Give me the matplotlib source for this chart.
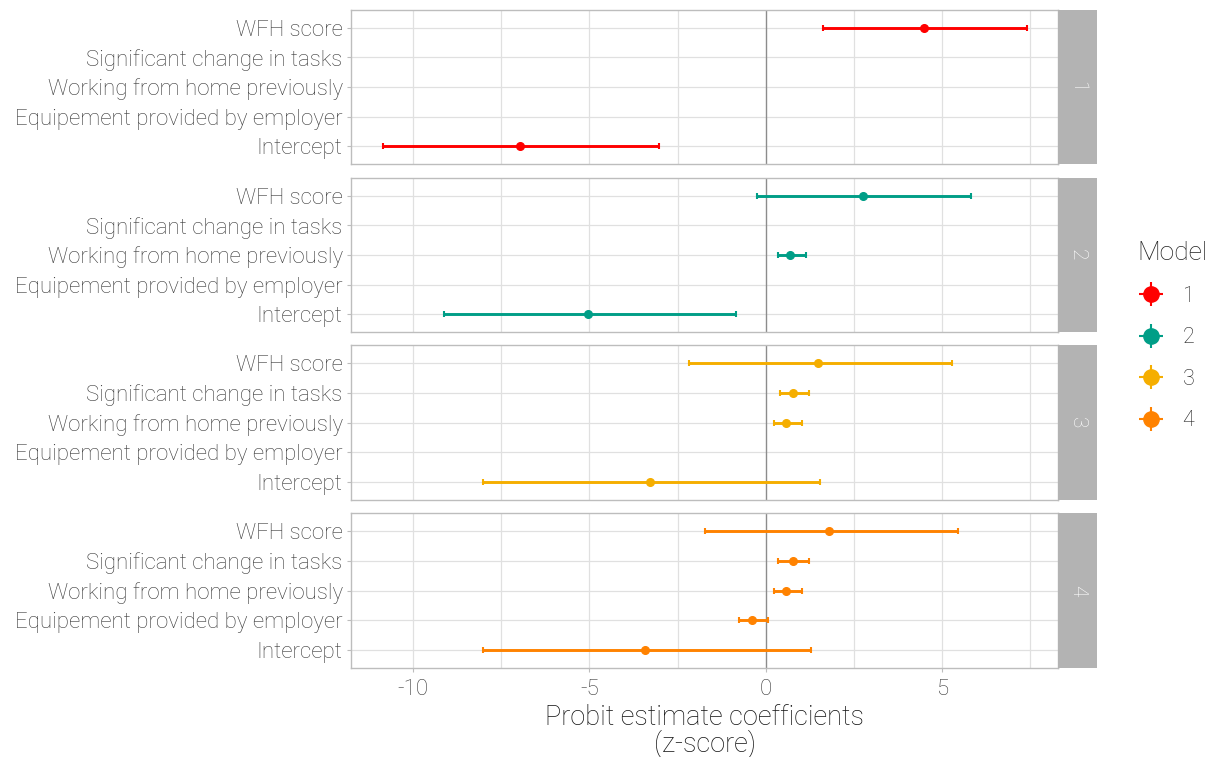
import matplotlib.pyplot as plt
from matplotlib.lines import Line2D
from matplotlib.legend_handler import HandlerTuple

plt.rcParams['font.family'] = ['Roboto', 'DejaVu Sans']
plt.rcParams['font.weight'] = 'light'

terms = ['WFH score', 'Significant change in tasks', 'Working from home previously',
         'Equipement provided by employer', 'Intercept']
models = ['1', '2', '3', '4']
colors = ['#FF0000', '#009E87', '#F5AE00', '#FF8200']

# per model: term -> (estimate, low, high)
est1 = {'WFH score': (4.48, 1.62, 7.41), 'Intercept': (-6.97, -10.85, -3.03)}
est2 = {'WFH score': (2.77, -0.26, 5.83),
        'Working from home previously': (0.69, 0.36, 1.13),
        'Intercept': (-5.05, -9.12, -0.85)}
est3 = {'WFH score': (1.49, -2.18, 5.29),
        'Significant change in tasks': (0.78, 0.41, 1.23),
        'Working from home previously': (0.59, 0.24, 1.03),
        'Intercept': (-3.27, -8.01, 1.53)}
est4 = {'WFH score': (1.80, -1.72, 5.44),
        'Significant change in tasks': (0.78, 0.35, 1.23),
        'Working from home previously': (0.59, 0.24, 1.03),
        'Equipement provided by employer': (-0.38, -0.76, 0.06),
        'Intercept': (-3.42, -8.01, 1.28)}
estimates = [est1, est2, est3, est4]

W, H = 1213, 757
fig = plt.figure(figsize=(W / 100, H / 100), dpi=100)

left, right = 351, 1058
tops = [10, 178, 345, 513]
bottoms = [164, 332, 500, 668]
txt_grey = '#3A3A3A'
border = '#BDBDBD'
grid_c = '#E0E0E0'

ypos = {t: len(terms) - 1 - i for i, t in enumerate(terms)}

for k in range(4):
    ax = fig.add_axes([left / W, 1 - bottoms[k] / H, (right - left) / W, (bottoms[k] - tops[k]) / H])
    ax.set_xlim(-11.76, 8.29)
    ax.set_ylim(-0.6, len(terms) - 0.4)
    for xv in [-10, -7.5, -5, -2.5, 2.5, 5, 7.5]:
        ax.axvline(xv, color=grid_c, lw=0.9, zorder=0)
    for yv in range(len(terms)):
        ax.axhline(yv, color=grid_c, lw=0.9, zorder=0)
    ax.axvline(0, color='#8C8C8C', lw=1.0, zorder=1)

    for term, (m, lo, hi) in estimates[k].items():
        y = ypos[term]
        ax.errorbar(m, y, xerr=[[m - lo], [hi - m]], fmt='o', color=colors[k],
                    ms=5.5, lw=2.1, capsize=2.2, capthick=1.5, zorder=3)

    ax.set_yticks([ypos[t] for t in terms])
    ax.set_yticklabels(terms, fontsize=16, color=txt_grey)
    ax.set_xticks([-10, -5, 0, 5])
    ax.tick_params(axis='both', color=border, length=3, width=0.8, pad=3)
    if k < 3:
        ax.tick_params(axis='x', labelbottom=False, length=0)
    else:
        ax.set_xticklabels(['-10', '-5', '0', '5'], fontsize=16, color=txt_grey)
        ax.tick_params(axis='x', pad=5)
    for s in ax.spines.values():
        s.set_color(border)
        s.set_linewidth(1.0)

    # strip on the right
    sax = fig.add_axes([right / W, 1 - bottoms[k] / H, 39 / W, (bottoms[k] - tops[k]) / H])
    sax.set_facecolor('#B3B3B3')
    sax.set_xticks([])
    sax.set_yticks([])
    for s in sax.spines.values():
        s.set_visible(False)
    sax.text(0.5, 0.5, models[k], transform=sax.transAxes, rotation=-90,
             ha='center', va='center', color='white', fontsize=15)

fig.text((left + right) / 2 / W, 1 - 731 / H, 'Probit estimate coefficients\n(z-score)',
         ha='center', va='center', fontsize=19.5, color='#111111', linespacing=0.95)

handles = []
for c in colors:
    h1 = Line2D([], [], marker='+', color=c, ms=17, mew=1.5, linestyle='none')
    h2 = Line2D([], [], marker='o', color=c, ms=11, linestyle='none')
    handles.append((h1, h2))
leg = fig.legend(handles, models, handler_map={tuple: HandlerTuple(ndivide=1)},
                 loc='upper left', bbox_to_anchor=(1118 / W, 1 - 222 / H), frameon=False,
                 title='Model', fontsize=15.5, title_fontsize=19, labelspacing=0.95,
                 handlelength=1.3, handletextpad=0.8)
leg._legend_box.align = 'left'
for t in leg.get_texts():
    t.set_color('#222222')
leg.get_title().set_color('#222222')

fig.savefig('out.png', dpi=100)
